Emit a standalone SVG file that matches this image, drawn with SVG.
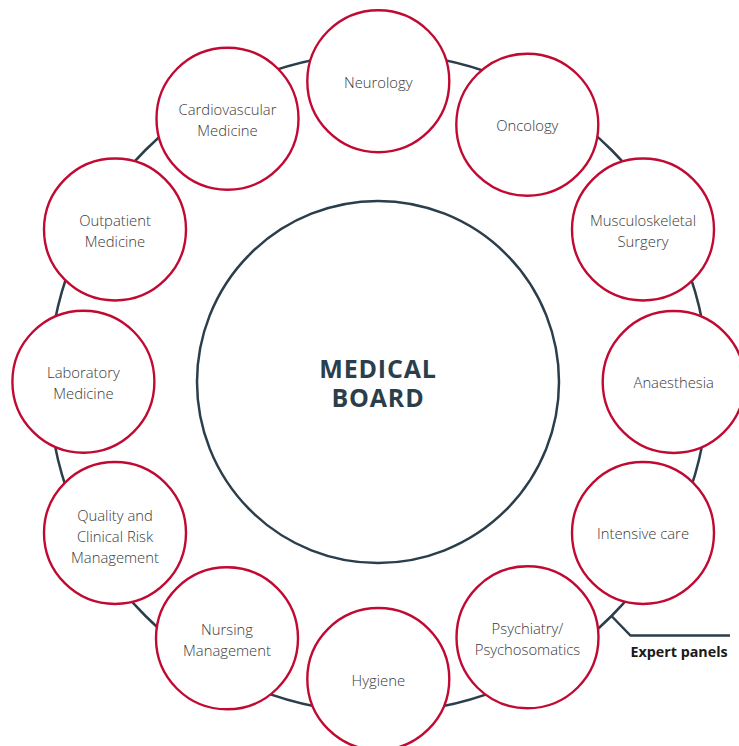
<svg xmlns="http://www.w3.org/2000/svg" width="739" height="746" viewBox="0 0 739 746">
<style>
.ring{fill:none;stroke:#2b3e4b;stroke-width:2.5}
.panel circle{fill:#fff;stroke:#c10a33;stroke-width:2.4}
.panel text{font-family:"Open Sans","Liberation Sans",sans-serif;font-size:14.8px;font-weight:300;fill:#3a3a3a;text-anchor:middle}
.board{font-family:"Open Sans","Liberation Sans",sans-serif;font-size:25px;font-weight:700;fill:#2b3e4b;text-anchor:middle;letter-spacing:0.8px}
.label{font-family:"Open Sans","Liberation Sans",sans-serif;font-size:14.3px;font-weight:700;fill:#1a1a1a}
</style>
<rect width="739" height="746" fill="#fff"/>
<g id="connectors">
<circle class="ring" cx="378.5" cy="383" r="329.5"/>
<polyline class="ring" points="611.5,616 630.5,635.5 730,635.5"/>
</g>
<g id="medical-board">
<circle class="ring" cx="378" cy="382" r="181"/>
<text class="board" x="378" y="377.5">MEDICAL</text>
<text class="board" x="378" y="406.5">BOARD</text>
</g>
<g id="neurology" class="panel"><circle cx="378.3" cy="81.2" r="71"/><text x="378.3" y="87.7">Neurology</text></g>
<g id="oncology" class="panel"><circle cx="527.3" cy="124.7" r="71"/><text x="527.3" y="131">Oncology</text></g>
<g id="musculoskeletal-surgery" class="panel"><circle cx="643" cy="229.5" r="71"/><text x="643" y="226">Musculoskeletal</text><text x="643" y="247">Surgery</text></g>
<g id="anaesthesia" class="panel"><circle cx="673.7" cy="382" r="71"/><text x="673.7" y="388">Anaesthesia</text></g>
<g id="intensive-care" class="panel"><circle cx="643" cy="533" r="71"/><text x="643" y="539">Intensive care</text></g>
<g id="psychiatry" class="panel"><circle cx="527.5" cy="637.3" r="71"/><text x="527.5" y="634.3">Psychiatry/</text><text x="527.5" y="654.5">Psychosomatics</text></g>
<g id="hygiene" class="panel"><circle cx="378.3" cy="679" r="71"/><text x="378.3" y="686">Hygiene</text></g>
<g id="nursing-management" class="panel"><circle cx="227" cy="638.3" r="71"/><text x="227" y="635">Nursing</text><text x="227" y="655.5">Management</text></g>
<g id="quality-risk" class="panel"><circle cx="115" cy="533" r="71"/><text x="115" y="521">Quality and</text><text x="115" y="542">Clinical Risk</text><text x="115" y="563">Management</text></g>
<g id="laboratory-medicine" class="panel"><circle cx="83.4" cy="381.7" r="71"/><text x="83.4" y="378.3">Laboratory</text><text x="83.4" y="399">Medicine</text></g>
<g id="outpatient-medicine" class="panel"><circle cx="115" cy="229.5" r="71"/><text x="115" y="226">Outpatient</text><text x="115" y="247">Medicine</text></g>
<g id="cardiovascular-medicine" class="panel"><circle cx="227.5" cy="118.7" r="71"/><text x="227.5" y="115">Cardiovascular</text><text x="227.5" y="135.5">Medicine</text></g>
<g id="expert-panels-label"><text class="label" x="630.5" y="657.3">Expert panels</text></g>
</svg>
